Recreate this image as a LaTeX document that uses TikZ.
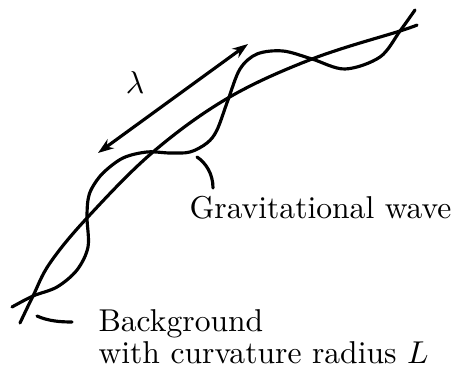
\documentclass[tikz,border=0pt]{standalone}
\usetikzlibrary{arrows.meta}
\begin{document}
\begin{tikzpicture}[x=0.3165pt,y=-0.3165pt,line width=1pt,line cap=round,
  label/.style={inner sep=0pt}]
\useasboundingbox (0,0) rectangle (459,367);
% background
\draw plot[smooth,tension=0.6] coordinates {(20,323) (33,296) (50,263) (87,218) (153,152) (228,98) (312,59) (400,31) (417,25)};
% wave
\draw plot[smooth,tension=0.55] coordinates {(12,307) (33,296) (57,287) (77,270) (88,247) (87,218) (88,200) (92,188) (103,173) (123,158) (147,152) (170,153) (190,152) (207,143) (217,130) (228,100) (240,69) (257,54) (283,51) (312,59) (345,69) (380,57) (400,31) (415,10)};
% wavelength
\coordinate (lamA) at (98,153);
\coordinate (lamB) at (248,44);
\draw[{Stealth[length=5pt,width=3.5pt]}-{Stealth[length=5pt,width=3.5pt]}] (lamA) -- (lamB);
\node (lam) at (135,83) {$\lambda$};
% labels
\node[label,anchor=base west] (gwlabel) at (188,219) {Gravitational wave};
\node[label,anchor=north west,align=left] (bglabel) at (97,308) {Background\\[-2pt]with curvature radius $L$};
\coordinate (gwtip) at (197,157);
\coordinate (gwend) at (213,188);
\draw (gwtip) .. controls (206,163) and (213,174) .. (gwend);
\coordinate (bgtip) at (37,316);
\coordinate (bgend) at (72,322);
\draw (bgtip) .. controls (48,321) and (60,322) .. (bgend);
\end{tikzpicture}
\end{document}
